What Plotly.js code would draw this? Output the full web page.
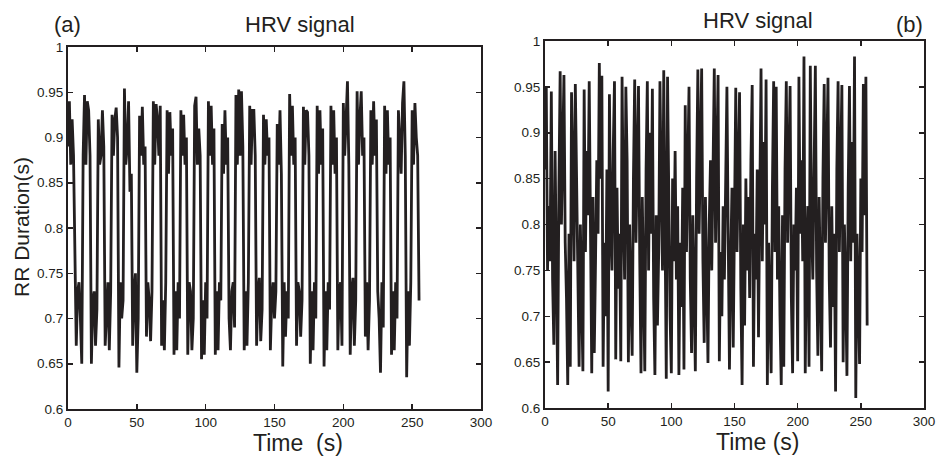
<!DOCTYPE html>
<html>
<head>
<meta charset="utf-8">
<script src="https://cdn.plot.ly/plotly-3.0.1.min.js"></script>
<style>
html,body{margin:0;padding:0;background:#fff;}
#chart{width:936px;height:457px;}
</style>
</head>
<body>
<div id="chart"></div>
<script>
// RR duration (s), sampled once per second, panel (a)
const rrA = [
0.89,0.94,0.87,0.92,0.88,
0.76,0.67,0.73,0.74,0.70,0.65,
0.88,0.947,0.87,0.94,0.93,0.88,
0.65,0.72,0.73,0.67,0.71,
0.92,0.87,0.88,0.93,0.89,
0.67,0.70,0.74,0.665,0.73,
0.925,0.88,0.92,0.933,0.90,
0.646,0.74,0.70,0.72,
0.954,0.87,0.89,0.94,0.84,0.86,
0.67,0.73,0.75,0.64,0.70,
0.924,0.88,0.934,0.87,0.89,
0.68,0.74,0.72,0.675,0.73,
0.94,0.87,0.937,0.92,0.88,0.935,
0.67,0.72,0.665,0.74,
0.93,0.86,0.928,0.88,0.91,
0.66,0.73,0.665,0.74,0.70,
0.93,0.88,0.925,0.87,0.90,
0.66,0.74,0.73,0.665,0.70,
0.935,0.945,0.87,0.91,0.88,
0.655,0.72,0.66,0.74,0.70,
0.94,0.88,0.935,0.87,0.91,
0.66,0.73,0.665,0.74,0.72,
0.915,0.86,0.93,0.87,0.90,
0.70,0.665,0.73,0.74,0.69,
0.947,0.87,0.953,0.88,0.951,0.89,
0.665,0.73,0.67,0.74,
0.935,0.87,0.93,0.93,0.88,
0.67,0.73,0.745,0.675,0.71,
0.925,0.87,0.92,0.88,0.90,
0.665,0.72,0.74,0.70,0.73,
0.915,0.87,0.93,0.86,
0.647,0.74,0.68,0.73,0.70,
0.948,0.88,0.935,0.87,0.90,
0.67,0.74,0.73,0.68,0.72,
0.934,0.87,0.93,0.928,0.88,
0.65,0.73,0.665,0.74,0.70,
0.935,0.86,0.93,0.87,0.91,
0.647,0.73,0.665,0.74,0.71,
0.935,0.87,0.93,0.86,0.90,
0.665,0.73,0.74,0.67,
0.938,0.88,0.92,0.962,0.87,
0.66,0.73,0.745,0.67,0.72,
0.951,0.87,0.92,0.951,0.88,0.90,
0.68,0.74,0.665,0.72,
0.93,0.87,0.94,0.88,0.92,
0.73,0.70,0.64,0.74,0.69,
0.935,0.86,0.93,0.87,0.90,
0.66,0.73,0.665,0.74,0.70,
0.93,0.89,0.86,0.938,0.962,0.88,
0.635,0.73,0.67,0.74,
0.93,0.87,0.938,0.90,0.88,
0.72
];

// RR duration (s), sampled once per second, panel (b)
const rrB = [
0.86,0.95,0.75,0.82,0.76,0.945,0.74,0.669,0.88,0.70,
0.625,0.84,0.967,0.80,0.91,0.963,0.78,0.72,0.625,0.79,
0.645,0.944,0.86,0.76,0.953,0.83,0.75,0.645,0.80,0.72,
0.64,0.947,0.77,0.88,0.81,0.956,0.74,0.638,0.83,0.66,
0.76,0.87,0.79,0.976,0.85,0.962,0.645,0.78,0.70,0.86,
0.618,0.942,0.80,0.75,0.88,0.956,0.653,0.84,0.73,0.79,
0.651,0.961,0.82,0.74,0.95,0.87,0.65,0.80,0.72,0.657,
0.85,0.958,0.78,0.89,0.951,0.76,0.638,0.83,0.70,0.64,
0.86,0.956,0.75,0.90,0.79,0.948,0.72,0.636,0.81,0.69,
0.77,0.956,0.84,0.75,0.968,0.73,0.632,0.961,0.80,0.70,
0.638,0.85,0.76,0.88,0.74,0.82,0.636,0.78,0.71,0.84,
0.642,0.93,0.77,0.86,0.95,0.74,0.66,0.81,0.72,0.64,
0.85,0.969,0.79,0.88,0.970,0.76,0.671,0.83,0.73,0.649,
0.80,0.87,0.75,0.84,0.970,0.78,0.90,0.963,0.651,0.77,
0.70,0.82,0.74,0.86,0.950,0.79,0.642,0.76,0.84,0.666,
0.81,0.949,0.77,0.88,0.944,0.73,0.625,0.80,0.69,0.85,
0.75,0.83,0.72,0.87,0.952,0.645,0.79,0.74,0.86,0.677,
0.82,0.970,0.76,0.89,0.80,0.958,0.625,0.78,0.71,0.638,
0.84,0.956,0.77,0.95,0.74,0.82,0.70,0.625,0.81,0.645,
0.86,0.956,0.78,0.88,0.951,0.72,0.638,0.80,0.75,0.84,
0.651,0.961,0.79,0.87,0.76,0.983,0.638,0.77,0.82,0.645,
0.973,0.80,0.74,0.86,0.973,0.75,0.657,0.83,0.72,0.64,
0.85,0.953,0.78,0.88,0.96,0.74,0.666,0.82,0.71,0.79,
0.618,0.86,0.956,0.77,0.87,0.952,0.65,0.80,0.73,0.635,
0.84,0.951,0.76,0.89,0.78,0.983,0.611,0.79,0.72,0.648,
0.85,0.77,0.953,0.81,0.961,0.69
];

const timeA = rrA.map((_, i) => i);
const timeB = rrB.map((_, i) => i);

const xTicks = [0, 50, 100, 150, 200, 250, 300];
const yTicks = [0.6, 0.65, 0.7, 0.75, 0.8, 0.85, 0.9, 0.95, 1];
const yTickText = ['0.6', '0.65', '0.7', '0.75', '0.8', '0.85', '0.9', '0.95', '1'];

const ink = '#231f20';
const W = 936, H = 457;
const px = v => v / W;
const py = v => 1 - v / H;
const fontFam = 'Liberation Sans, Arial, Helvetica, sans-serif';

const traces = [
  {x: timeA, y: rrA, type: 'scatter', mode: 'lines', xaxis: 'x', yaxis: 'y',
   line: {color: ink, width: 2.8}, hoverinfo: 'skip'},
  {x: timeB, y: rrB, type: 'scatter', mode: 'lines', xaxis: 'x2', yaxis: 'y2',
   line: {color: ink, width: 2.8}, hoverinfo: 'skip'}
];

function xAx(domain) {
  return {
    domain: domain, range: [0, 300], tickmode: 'array', tickvals: xTicks,
    showline: true, linecolor: ink, linewidth: 2, mirror: 'ticks',
    ticks: 'inside', ticklen: 5, tickwidth: 1.5, tickcolor: ink,
    showgrid: false, zeroline: false,
    tickfont: {family: fontFam, size: 13.5, color: ink}
  };
}
function yAx(domain, anchor) {
  return {
    domain: domain, range: [0.6, 1], anchor: anchor, tickmode: 'array',
    tickvals: yTicks, ticktext: yTickText,
    showline: true, linecolor: ink, linewidth: 2, mirror: 'ticks',
    ticks: 'inside', ticklen: 5, tickwidth: 1.5, tickcolor: ink,
    showgrid: false, zeroline: false,
    tickfont: {family: fontFam, size: 13.5, color: ink}
  };
}

const xa = xAx([px(68), px(481)]); xa.anchor = 'y';
const xb = xAx([px(545), px(924)]); xb.anchor = 'y2';
const ya = yAx([py(409), py(47)], 'x');
const yb = yAx([py(408), py(41)], 'x2');

function ann(text, x, y, size, angle) {
  return {text: text, xref: 'paper', yref: 'paper', x: px(x), y: py(y),
    xanchor: 'center', yanchor: 'middle', showarrow: false, textangle: angle || 0,
    font: {family: fontFam, size: size, color: ink}};
}

const layout = {
  width: W, height: H,
  margin: {l: 0, r: 0, t: 0, b: 0},
  paper_bgcolor: '#ffffff', plot_bgcolor: '#ffffff',
  showlegend: false,
  xaxis: xa, yaxis: ya, xaxis2: xb, yaxis2: yb,
  annotations: [
    ann('(a)', 67, 25, 22),
    ann('HRV signal', 300, 25, 22),
    ann('HRV signal', 758, 21, 22),
    ann('(b)', 909, 25, 22),
    ann('Time  (s)', 298, 443, 23),
    ann('Time (s)', 757, 442, 23),
    ann('RR Duration(s)', 21, 227, 21, -90)
  ]
};

Plotly.newPlot('chart', traces, layout, {staticPlot: true, displayModeBar: false});
</script>
</body>
</html>
